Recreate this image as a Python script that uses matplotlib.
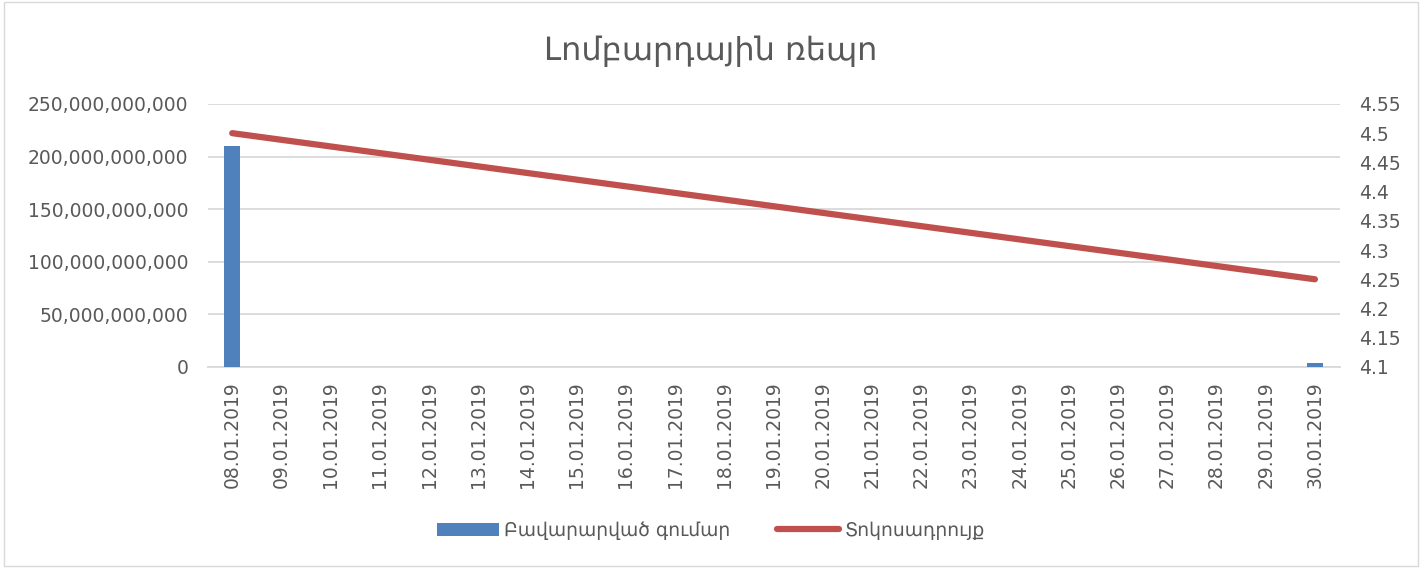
import numpy as np
from matplotlib import pyplot as plt
from matplotlib.ticker import FuncFormatter, MultipleLocator

#region `data`
dates = ['%02d.01.2019' % d for d in range(8, 31)]
amount_dates = ['08.01.2019', '30.01.2019']
amount_values = [210e9, 4e9]
rate_dates = ['08.01.2019', '30.01.2019']
rate_values = [4.5, 4.25]
title = 'Լոմբարդային ռեպո'
bar_label = 'Բավարարված գումար'
line_label = 'Տոկոսադրույք'
#endregion

plt.rcParams['font.family'] = ['DejaVu Sans']
grey = '#595959'

fig = plt.figure(figsize=(14.22, 5.68), dpi=100)
ax = fig.add_axes([0.146, 0.354, 0.796, 0.463])
ax2 = ax.twinx()

pos = {d: i for i, d in enumerate(dates)}
bx = [pos[d] for d in amount_dates]
bars = ax.bar(bx, amount_values, 0.33, color='#4f81bd', label=bar_label, zorder=3)
lx = [pos[d] for d in rate_dates]
line, = ax2.plot(lx, rate_values, color='#c0504d', lw=4.5, solid_capstyle='round', label=line_label)

ax.set_xlim(-0.5, len(dates) - 0.5)
ax.set_ylim(0, 250e9)
ax.yaxis.set_major_locator(MultipleLocator(50e9))
ax.yaxis.set_major_formatter(FuncFormatter(lambda v, p: '{:,.0f}'.format(v)))
ax2.set_ylim(4.1, 4.55)
ax2.yaxis.set_major_locator(MultipleLocator(0.05))
ax2.yaxis.set_major_formatter(FuncFormatter(lambda v, p: ('%.2f' % v).rstrip('0').rstrip('.')))

ax.grid(axis='y', color='#d9d9d9', lw=1.3, zorder=0)
ax.set_axisbelow(True)
for a in (ax, ax2):
    for s in a.spines.values():
        s.set_visible(False)
    a.tick_params(length=0, colors=grey, labelsize=13.5)
ax.spines['bottom'].set_visible(True)
ax.spines['bottom'].set_color('#d9d9d9')
ax.spines['bottom'].set_linewidth(1.3)

ax.set_xticks(range(len(dates)))
ax.set_xticklabels(dates, rotation=90)
ax.tick_params(axis='x', pad=10)
ax.tick_params(axis='y', pad=14)
ax2.tick_params(axis='y', pad=14)

fig.text(0.5, 0.91, title, ha='center', va='center', fontsize=23, color=grey)
fig.legend([bars, line], [bar_label, line_label], loc='center', bbox_to_anchor=(0.5, 0.066),
           ncol=2, frameon=False, fontsize=13.5, labelcolor=grey, handlelength=3.3,
           handletextpad=0.3, columnspacing=2.5)

fig.patches.append(plt.Rectangle((0.003, 0.004), 0.994, 0.992, transform=fig.transFigure,
                                 fill=False, edgecolor='#d9d9d9', lw=1))

fig.savefig('out.png', dpi=100, facecolor='white')
